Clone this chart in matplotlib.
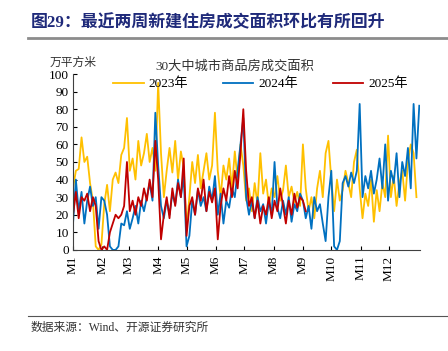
import numpy as np
import matplotlib
matplotlib.use("Agg")
import matplotlib.pyplot as plt

plt.rcParams['font.family'] = ['Liberation Serif', 'Noto Sans CJK SC', 'DejaVu Sans']

# 30大中城市商品房成交面积（万平方米），每3天取一个点
y2023 = [35, 45, 46, 64, 50, 53, 38, 28, 2, 0, 3, 26, 37, 22, 40, 44, 38, 54, 58, 75,
         45, 52, 40, 62, 48, 55, 66, 50, 58, 45, 95, 55, 30, 45, 58, 44, 62, 40, 56, 47,
         12, 30, 50, 38, 54, 35, 45, 55, 40, 48, 78, 45, 30, 48, 40, 52, 35, 56, 40, 60,
         48, 28, 35, 22, 38, 26, 55, 32, 40, 25, 35, 30, 42, 28, 34, 48, 30, 36, 27, 33,
         25, 60, 35, 22, 30, 18, 35, 45, 30, 55, 62, 40, 22, 40, 28, 34, 45, 38, 30, 50,
         57, 35, 18, 32, 25, 40, 16, 34, 22, 38, 30, 65, 30, 42, 25, 38, 45, 28, 50, 60,
         55, 30]
y2024 = [15, 40, 22, 33, 15, 28, 36, 25, 30, 12, 30, 28, 20, 2, 0, 0, 2, 15, 14, 22,
         12, 18, 25, 15, 28, 22, 30, 38, 28, 78, 48, 25, 18, 28, 20, 32, 26, 40, 30, 42,
         2, 8, 28, 20, 34, 25, 30, 22, 36, 28, 42, 20, 32, 15, 28, 24, 35, 30, 45, 60,
         75, 30, 20, 28, 18, 30, 22, 26, 15, 28, 20, 50, 24, 18, 28, 20, 30, 16, 26, 22,
         32, 28, 18, 25, 12, 30, 22, 26, 15, 5, 30, 45, 2, 0, 5, 38, 42, 36, 44, 38,
         45, 83, 30, 42, 35, 45, 32, 40, 52, 35, 60, 28, 45, 38, 55, 30, 50, 42, 58, 35,
         83, 52, 82]
y2025 = [20, 33, 18, 30, 28, 32, 22, 30, 25, 5, 0, 2, 0, 10, 15, 20, 18, 20, 25, 50,
         22, 28, 20, 30, 25, 35, 28, 40, 30, 62, 40, 6, 20, 30, 18, 35, 25, 38, 30, 52,
         8, 25, 30, 20, 35, 28, 40, 22, 33, 27, 35, 6, 25, 35, 28, 42, 30, 45, 35, 55,
         80, 45, 25, 30, 18, 28, 15, 25, 20, 30, 18, 28, 22, 35, 25, 15, 28, 20, 32, 24,
         30, 28, 22]

months = ["M1", "M2", "M3", "M4", "M5", "M6", "M7", "M8", "M9", "M10", "M11", "M12"]
month_start = [0, 31, 59, 90, 120, 151, 181, 212, 243, 273, 304, 334]


def days(n):
    d = np.arange(n) * 3.0
    return np.minimum(d, 366)


fig = plt.figure(figsize=(4.48, 3.51), dpi=100)
ax = fig.add_axes([0.163, 0.288, 0.775, 0.501])

ax.plot(days(len(y2023)), y2023, color="#FFC000", lw=1.3, label="2023年")
ax.plot(days(len(y2024)), y2024, color="#0070C0", lw=1.3, label="2024年")
ax.plot(days(len(y2025)), y2025, color="#C00000", lw=1.3, label="2025年")

ax.set_xlim(0, 367)
ax.set_ylim(0, 100)
ax.set_yticks(range(0, 101, 10))
ax.set_xticks(month_start)
ax.set_xticklabels(months, rotation=90, fontsize=9.5)
ax.tick_params(axis="y", direction="in", length=3, labelsize=9.5, pad=3)
ax.tick_params(axis="x", direction="in", length=3, pad=4)
for s in ["top", "right"]:
    ax.spines[s].set_visible(False)
for s in ["left", "bottom"]:
    ax.spines[s].set_color("#404040")

ax.legend(loc="center", bbox_to_anchor=(0.54, 0.943), ncol=3, frameon=False,
          fontsize=9.5, handlelength=2.3, columnspacing=2.6, handletextpad=0.4)

fig.text(0.068, 0.935, "图29：最近两周新建住房成交面积环比有所回升", fontsize=12.2,
         fontweight="bold", color="#1F2A7A", va="center")
fig.add_artist(plt.Line2D([0.063, 1.0], [0.893, 0.893], color="#8C8C8C", lw=2))
fig.text(0.11, 0.822, "万平方米", fontsize=8.5, color="#333333", va="center",
         style="italic")
fig.text(0.525, 0.81, "30大中城市商品房成交面积", fontsize=9.5, color="#333333",
         ha="center", va="center")
fig.add_artist(plt.Line2D([0.063, 1.0], [0.10, 0.10], color="#555555", lw=0.8))
fig.text(0.068, 0.065, "数据来源：Wind、开源证券研究所", fontsize=8.5, color="#333333",
         va="center")

fig.savefig("out.png", dpi=100)
